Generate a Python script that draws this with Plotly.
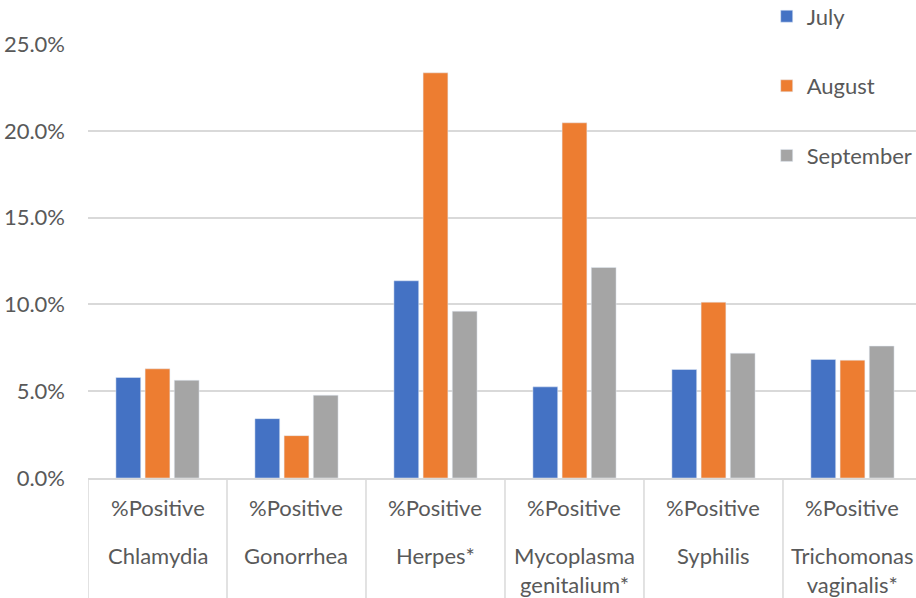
import plotly.graph_objects as go

categories = ["Chlamydia", "Gonorrhea", "Herpes*", "Mycoplasma<br>genitalium*", "Syphilis", "Trichomonas<br>vaginalis*"]
top_label = "%Positive"
months = ["July", "August", "September"]
july = [0.0579, 0.0342, 0.1136, 0.0525, 0.0625, 0.0683]
august = [0.0629, 0.0244, 0.2334, 0.2046, 0.1013, 0.0679]
september = [0.0563, 0.0477, 0.0961, 0.1213, 0.0719, 0.0760]
colors = ["#4472C4", "#ED7D31", "#A5A5A5"]
y_ticks = [0, 0.05, 0.10, 0.15, 0.20, 0.25]

FONT = "Lato"
TXT = "#595959"
GRID = "#D9D9D9"
FS = 22

x_idx = list(range(len(categories)))

fig = go.Figure()
for name, vals, col in zip(months, [july, august, september], colors):
    fig.add_trace(go.Bar(x=x_idx, y=vals, name=name, marker_color=col,
                         legendgroup=name))

shapes = []
for i in range(len(categories) + 1):
    shapes.append(dict(type="line", xref="x", yref="paper", x0=i - 0.5, x1=i - 0.5,
                       y0=0, y1=-0.28, line=dict(color=GRID, width=1.5), layer="below"))

annotations = []
for i, c in enumerate(categories):
    annotations.append(dict(x=i, y=0, xref="x", yref="paper", text=top_label, showarrow=False,
                            yanchor="top", yshift=-14, font=dict(family=FONT, size=FS, color=TXT)))
    annotations.append(dict(x=i, y=0, xref="x", yref="paper", text=c, showarrow=False,
                            yanchor="top", yshift=-62, font=dict(family=FONT, size=FS, color=TXT)))

fig.update_layout(
    width=916, height=598,
    margin=dict(l=88, r=0, t=44, b=120, autoexpand=False),
    paper_bgcolor="white", plot_bgcolor="white",
    font=dict(family=FONT, size=FS, color=TXT),
    barmode="group", bargap=0.37, bargroupgap=0.15,
    xaxis=dict(range=[-0.5, 5.457], showticklabels=False, showgrid=False, zeroline=False,
               showline=True, linecolor=GRID, linewidth=1.5, ticks="", automargin=False),
    yaxis=dict(range=[0, 0.25], tickvals=y_ticks, tickformat=".1%", showgrid=True,
               gridcolor=GRID, gridwidth=1.5, zeroline=False, showline=False, automargin=False,
               ticks="", ticklabelstandoff=22, tickfont=dict(family=FONT, size=FS, color=TXT)),
    legend=dict(x=0.8197, y=1.112, xanchor="left", yanchor="top", tracegroupgap=38,
                font=dict(family=FONT, size=FS, color=TXT), bgcolor="rgba(0,0,0,0)"),
    shapes=shapes, annotations=annotations,
)

fig.write_html("out.html", config={"displayModeBar": False},
               post_script="document.body.style.margin='0px';document.body.style.overflow='hidden';")
